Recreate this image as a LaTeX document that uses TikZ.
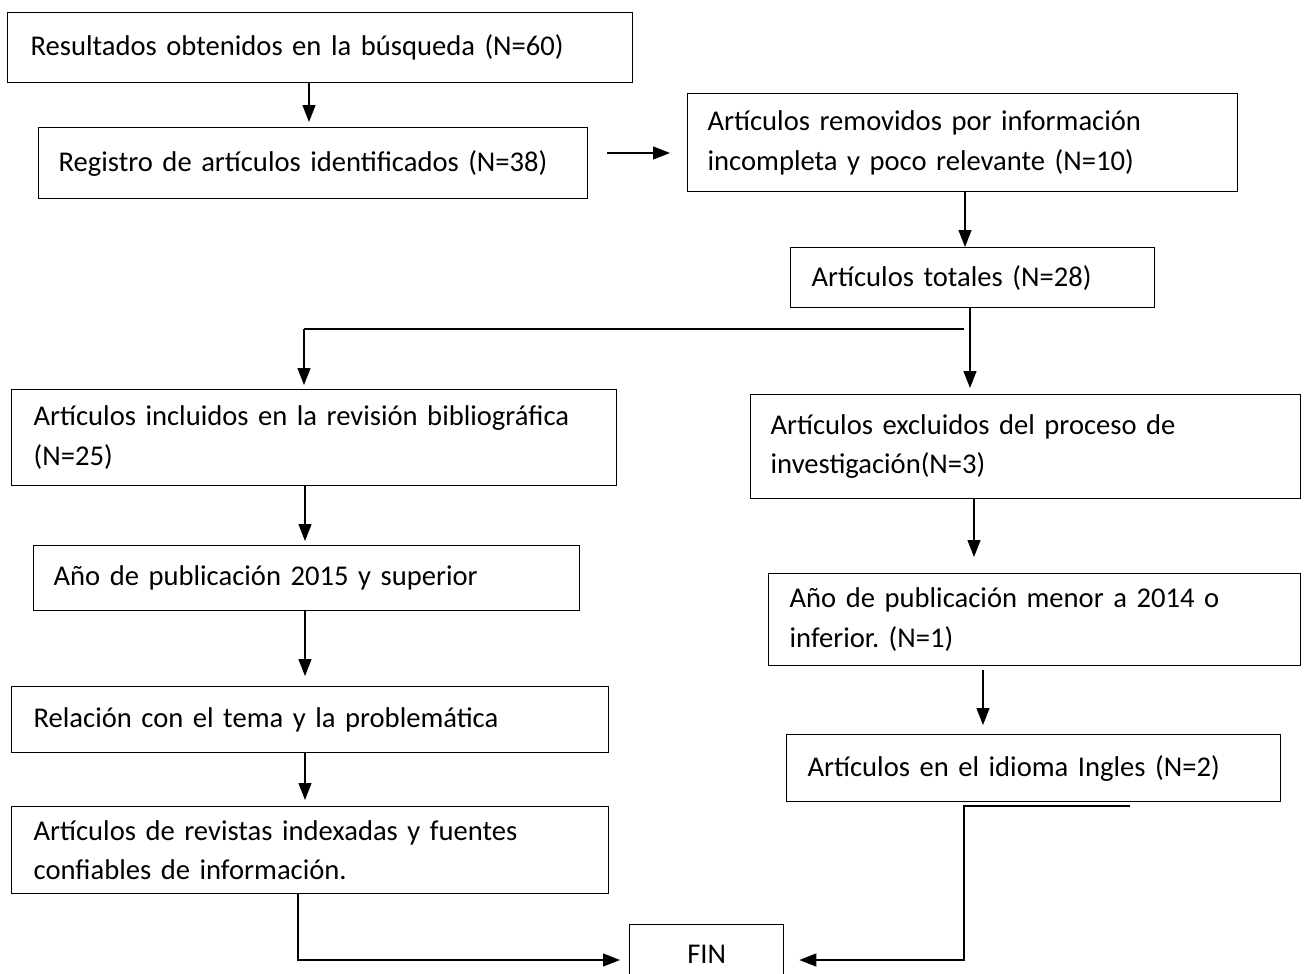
\documentclass[tikz,border=0pt]{standalone}
\usepackage{fontspec}
\setmainfont{Carlito}
\usetikzlibrary{arrows.meta}
\frenchspacing
\begin{document}
\begin{tikzpicture}[x=1pt,y=-1pt,
  box/.style={draw, line width=1.3pt, anchor=north west, align=left, inner ysep=0pt, font=\fontsize{28.6}{39.5}\selectfont\frenchspacing},
  arr/.style={line width=1.3pt, -{Triangle[length=17pt,width=13pt]}},
  ln/.style={line width=1.3pt}]
\useasboundingbox (0,0) rectangle (1306,974);
\fill[white] (0,0) rectangle (1306,974);
% boxes
\node[box, minimum width=625pt, minimum height=70pt, inner xsep=23pt, text width=579pt] (b1) at (7,12) {\mbox{Resultados obtenidos en la búsqueda (N=60)}};
\node[box, minimum width=549pt, minimum height=71pt, inner xsep=20pt, text width=509pt] (b2) at (38,127) {\mbox{Registro de artículos identificados (N=38)}};
\node[box, minimum width=550pt, minimum height=98pt, inner xsep=20pt, text width=510pt] (b3) at (687,93) {\mbox{Artículos removidos por información}\\\mbox{incompleta y poco relevante (N=10)}};
\node[box, minimum width=364pt, minimum height=60pt, inner xsep=21pt, text width=322pt] (b4) at (790,247) {\mbox{Artículos totales (N=28)}};
\node[box, minimum width=605pt, minimum height=96pt, inner xsep=22pt, text width=561pt] (b5) at (11,389) {\mbox{Artículos incluidos en la revisión bibliográfica}\\(N=25)};
\node[box, minimum width=550pt, minimum height=104pt, inner xsep=20pt, text width=510pt] (b6) at (750,394) {\mbox{Artículos excluidos del proceso de}\\\mbox{investigación(N=3)}};
\node[box, minimum width=546pt, minimum height=65pt, inner xsep=20pt, text width=506pt] (b7) at (33,545) {\mbox{Año de publicación 2015 y superior}};
\node[box, minimum width=532pt, minimum height=92pt, inner xsep=21pt, text width=490pt] (b8) at (768,573) {\mbox{Año de publicación menor a 2014 o}\\\mbox{inferior. (N=1)}};
\node[box, minimum width=597pt, minimum height=66pt, inner xsep=22pt, text width=553pt] (b9) at (11,686) {\mbox{Relación con el tema y la problemática}};
\node[box, minimum width=494pt, minimum height=67pt, inner xsep=21pt, text width=452pt] (b10) at (786,734) {\mbox{Artículos en el idioma Ingles (N=2)}};
\node[box, minimum width=597pt, minimum height=87pt, inner xsep=22pt, text width=553pt] (b11) at (11,806) {\mbox{Artículos de revistas indexadas y fuentes}\\\mbox{confiables de información.}};
\node[box, align=center, minimum width=154pt, minimum height=60pt, inner xsep=0pt, text width=154pt] (fin) at (629,924) {FIN};
% helper coordinates
\coordinate (x309) at (309,0);
\coordinate (h1) at (607,153);
\coordinate (h2) at (670,153);
\coordinate (x965) at (965,0);
\coordinate (x970) at (970,0);
\coordinate (s1) at (304,329);
\coordinate (s2) at (964,329);
\coordinate (x305) at (305,0);
\coordinate (x974) at (974,0);
\coordinate (d1) at (983,670);
\coordinate (l1) at (298,893);
\coordinate (l2) at (298,960);
\coordinate (r1) at (1130,806);
\coordinate (r2) at (964,806);
\coordinate (r3) at (964,960);
% connectors
\draw[arr] (b1.south -| x309) -- ([yshift=5pt]b2.north -| x309);
\draw[arr] (h1) -- (h2);
\draw[arr] (b3.south -| x965) -- (b4.north -| x965);
\draw[arr] (b4.south -| x970) -- ([yshift=6pt]b6.north -| x970);
\draw[ln] (s1) -- (s2);
\draw[arr] (s1) -- ([yshift=4pt]b5.north -| s1);
\draw[arr] (b5.south -| x305) -- ([yshift=4pt]b7.north -| x305);
\draw[arr] (b6.south -| x974) -- ([yshift=16pt]b8.north -| x974);
\draw[arr] (b7.south -| x305) -- ([yshift=10pt]b9.north -| x305);
\draw[arr] (d1) -- ([yshift=9pt]b10.north -| d1);
\draw[arr] (b9.south -| x305) -- ([yshift=6pt]b11.north -| x305);
\draw[arr] (l1) -- (l2) -- ([xshift=-9pt]fin.west |- l2);
\draw[arr] (r1) -- (r2) -- (r3) -- ([xshift=15pt]fin.east |- r3);
\end{tikzpicture}
\end{document}
